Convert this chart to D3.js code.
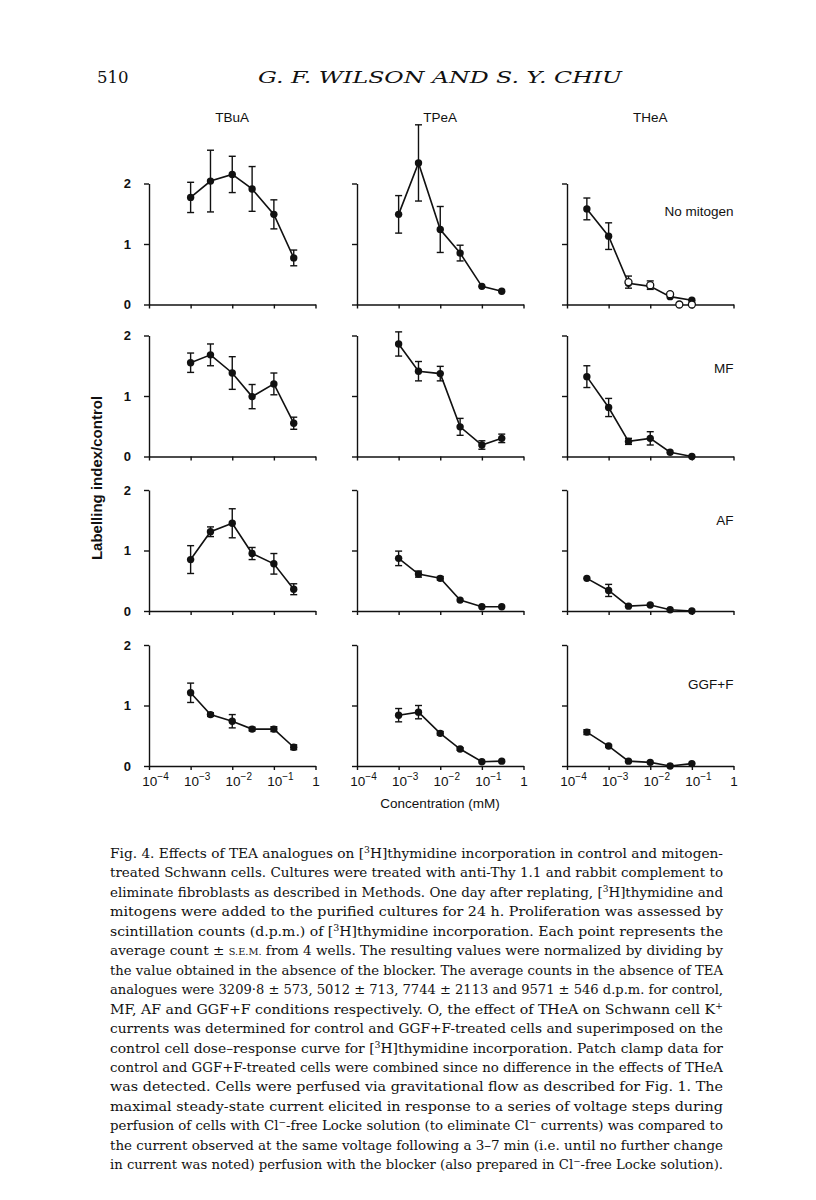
<!DOCTYPE html>
<html><head><meta charset="utf-8">
<script src="https://cdn.jsdelivr.net/npm/d3@7"></script>
<style>body{margin:0;background:#fff} svg{display:block}</style>
</head><body>
<svg id="c" width="816" height="1200"></svg>
<script>
// ---------- data ----------
const drugs = ["TBuA", "TPeA", "THeA"];
const conditions = ["No mitogen", "MF", "AF", "GGF+F"];
const xTicks = [1e-4, 1e-3, 1e-2, 1e-1, 1];
const xTickExp = ["−4", "−3", "−2", "−1", ""];
const yTicks = [0, 1, 2];

const concTBuA = [1e-3, 3e-3, 1e-2, 3e-2, 1e-1, 3e-1];
const concTPeA = [1e-3, 3e-3, 1e-2, 3e-2, 1e-1, 3e-1];
const concTHeA = [3e-4, 1e-3, 3e-3, 1e-2, 3e-2, 1e-1];

// rows: No mitogen, MF, AF, GGF+F
const meanTBuA = [[1.77, 2.04, 2.15, 1.91, 1.49, 0.77], [1.55, 1.68, 1.38, 0.99, 1.20, 0.55], [0.85, 1.31, 1.45, 0.95, 0.78, 0.36], [1.21, 0.85, 0.74, 0.61, 0.61, 0.31]];
const semTBuA  = [[0.25, 0.51, 0.30, 0.37, 0.24, 0.13], [0.16, 0.18, 0.27, 0.20, 0.18, 0.10], [0.23, 0.08, 0.24, 0.10, 0.17, 0.09], [0.16, 0.03, 0.11, 0.03, 0.04, 0.04]];
const meanTPeA = [[1.49, 2.34, 1.24, 0.85, 0.30, 0.22], [1.86, 1.41, 1.37, 0.49, 0.19, 0.30], [0.87, 0.61, 0.54, 0.18, 0.07, 0.07], [0.84, 0.89, 0.54, 0.28, 0.07, 0.08]];
const semTPeA  = [[0.31, 0.63, 0.38, 0.13, 0, 0], [0.20, 0.16, 0.12, 0.14, 0.07, 0.07], [0.12, 0.05, 0.03, 0, 0, 0], [0.11, 0.11, 0.03, 0.02, 0, 0]];
const meanTHeA = [[1.58, 1.13, 0.35, 0.30, 0.13, 0.07], [1.32, 0.81, 0.25, 0.30, 0.07, 0.0], [0.54, 0.34, 0.08, 0.10, 0.02, 0.0], [0.56, 0.33, 0.08, 0.06, 0.0, 0.04]];
const semTHeA  = [[0.18, 0.22, 0, 0, 0, 0], [0.18, 0.15, 0.05, 0.11, 0, 0], [0, 0.10, 0, 0, 0, 0], [0.04, 0.02, 0, 0, 0, 0]];

// open circles: THeA effect on K+ currents (No mitogen panel)
const patchConc = [3e-3, 1e-2, 3e-2, 5e-2, 1e-1];
const patchMean = [0.37, 0.32, 0.17, 0.0, 0.0];
const patchSem  = [0.10, 0.07, 0, 0, 0];

const pageNumber = "510";
const runningHead = "G. F. WILSON AND S. Y. CHIU";
const yTitle = "Labelling index/control";
const xTitle = "Concentration (mM)";
const captionLines = [
  "Fig. 4. Effects of TEA analogues on [^{3}H]thymidine incorporation in control and mitogen-",
  "treated Schwann cells. Cultures were treated with anti-Thy 1.1 and rabbit complement to",
  "eliminate fibroblasts as described in Methods. One day after replating, [^{3}H]thymidine and",
  "mitogens were added to the purified cultures for 24 h. Proliferation was assessed by",
  "scintillation counts (d.p.m.) of [^{3}H]thymidine incorporation. Each point represents the",
  "average count ± ~{S.E.M.} from 4 wells. The resulting values were normalized by dividing by",
  "the value obtained in the absence of the blocker. The average counts in the absence of TEA",
  "analogues were 3209·8 ± 573, 5012 ± 713, 7744 ± 2113 and 9571 ± 546 d.p.m. for control,",
  "MF, AF and GGF+F conditions respectively. O, the effect of THeA on Schwann cell K^{+}",
  "currents was determined for control and GGF+F-treated cells and superimposed on the",
  "control cell dose–response curve for [^{3}H]thymidine incorporation. Patch clamp data for",
  "control and GGF+F-treated cells were combined since no difference in the effects of THeA",
  "was detected. Cells were perfused via gravitational flow as described for Fig. 1. The",
  "maximal steady-state current elicited in response to a series of voltage steps during",
  "perfusion of cells with Cl^{−}-free Locke solution (to eliminate Cl^{−} currents) was compared to",
  "the current observed at the same voltage following a 3–7 min (i.e. until no further change",
  "in current was noted) perfusion with the blocker (also prepared in Cl^{−}-free Locke solution)."
];

// ---------- layout ----------
const svg = d3.select("#c");
const sans = "'Liberation Sans', Arial, Helvetica, sans-serif";
const serif = "'DejaVu Serif', 'Liberation Serif', serif";
const ink = "#111";
const colX = [149, 357, 567];
const rowBase = [304.5, 456.5, 611, 766];
const plotW = 166.5, plotH = 121;
const condLabelY = [216, 373, 525, 689];

const x = d3.scaleLog().domain([1e-4, 1]).range([0, plotW]);
const y = d3.scaleLinear().domain([0, 2]).range([plotH, 0]);

const concs = [concTBuA, concTPeA, concTHeA];
const means = [meanTBuA, meanTPeA, meanTHeA];
const sems = [semTBuA, semTPeA, semTHeA];

// header
svg.append("text").attr("x", 97).attr("y", 83).attr("font-family", serif).attr("font-size", 16.5)
  .attr("fill", ink).text(pageNumber);
svg.append("text").attr("x", 440).attr("y", 83).attr("text-anchor", "middle").attr("font-family", serif)
  .attr("font-size", 16).attr("font-style", "italic").attr("fill", ink)
  .attr("textLength", 364).attr("lengthAdjust", "spacingAndGlyphs").text(runningHead);

// column titles
drugs.forEach((d, i) => {
  svg.append("text").attr("x", colX[i] + plotW / 2).attr("y", 122).attr("text-anchor", "middle")
    .attr("font-family", sans).attr("font-size", 13.5).attr("fill", ink).text(d);
});

function errBars(g, data, cap) {
  const eb = g.append("g").attr("stroke", ink).attr("stroke-width", 1.4).attr("fill", "none");
  data.filter(d => d.e > 0).forEach(d => {
    const cx = x(d.c), y1 = y(d.v + d.e), y2 = y(d.v - d.e);
    eb.append("line").attr("x1", cx).attr("x2", cx).attr("y1", y1).attr("y2", y2);
    eb.append("line").attr("x1", cx - cap).attr("x2", cx + cap).attr("y1", y1).attr("y2", y1);
    eb.append("line").attr("x1", cx - cap).attr("x2", cx + cap).attr("y1", y2).attr("y2", y2);
  });
}

conditions.forEach((cond, r) => {
  drugs.forEach((drug, c) => {
    const g = svg.append("g").attr("transform", `translate(${colX[c]},${rowBase[r] - plotH})`);
    // axes
    const ya = g.append("g").call(d3.axisLeft(y).tickValues(yTicks).tickSize(5).tickSizeOuter(0)
      .tickPadding(13).tickFormat(c === 0 ? d3.format("d") : () => ""));
    const xa = g.append("g").attr("transform", `translate(0,${plotH})`)
      .call(d3.axisBottom(x).tickValues(xTicks).tickSize(4).tickSizeOuter(0).tickPadding(6).tickFormat(() => ""));
    [ya, xa].forEach(a => {
      a.select(".domain").attr("stroke", ink).attr("stroke-width", 1.4);
      a.selectAll(".tick line").attr("stroke", ink).attr("stroke-width", 1.4);
      a.selectAll("text").attr("font-family", sans).attr("font-size", 13).attr("font-weight", "bold").attr("fill", ink);
    });
    if (r === conditions.length - 1) {
      xa.selectAll(".tick text").each(function (d, i) {
        const t = d3.select(this).text("").attr("font-weight", "normal").attr("font-size", 13.5);
        if (xTickExp[i]) {
          t.attr("dx", 6);
          t.append("tspan").text("10");
          t.append("tspan").attr("dy", -5.5).attr("font-size", 10).text(xTickExp[i]);
        } else {
          t.append("tspan").text("1");
        }
      });
    }
    // data
    const data = concs[c].map((cc, k) => ({ c: cc, v: means[c][r][k], e: sems[c][r][k] }));
    errBars(g, data, 3.5);
    g.append("path").datum(data).attr("fill", "none").attr("stroke", ink).attr("stroke-width", 1.6)
      .attr("d", d3.line().x(d => x(d.c)).y(d => y(d.v)));
    g.selectAll("circle.f").data(data).join("circle").attr("class", "f")
      .attr("cx", d => x(d.c)).attr("cy", d => y(d.v)).attr("r", 3.7).attr("fill", ink);
    if (r === 0 && c === 2) {
      const open = patchConc.map((cc, k) => ({ c: cc, v: patchMean[k], e: patchSem[k] }));
      errBars(g, open, 3.5);
      g.selectAll("circle.o").data(open).join("circle").attr("class", "o")
        .attr("cx", d => x(d.c)).attr("cy", d => y(d.v)).attr("r", 3.5)
        .attr("fill", "#fff").attr("stroke", ink).attr("stroke-width", 1.3);
    }
    if (c === 2) {
      svg.append("text").attr("x", colX[2] + plotW).attr("y", condLabelY[r]).attr("text-anchor", "end")
        .attr("font-family", sans).attr("font-size", 13.5).attr("fill", ink).text(cond);
    }
  });
});

// axis titles
svg.append("text").attr("transform", "translate(102,478) rotate(-90)").attr("text-anchor", "middle")
  .attr("font-family", sans).attr("font-size", 15).attr("font-weight", "bold").attr("fill", ink).text(yTitle);
svg.append("text").attr("x", 440).attr("y", 808).attr("text-anchor", "middle")
  .attr("font-family", sans).attr("font-size", 13.5).attr("fill", ink).text(xTitle);

// caption
const capX0 = 110, capX1 = 723, capY0 = 858, capDY = 19.45;
captionLines.forEach((line, i) => {
  const t = svg.append("text").attr("x", capX0).attr("y", capY0 + i * capDY)
    .attr("font-family", serif).attr("font-size", 12.6).attr("fill", ink)
    .attr("textLength", capX1 - capX0).attr("lengthAdjust", "spacingAndGlyphs");
  const re = /(\^\{[^}]*\}|~\{[^}]*\})/g;
  line.split(re).forEach(seg => {
    if (!seg) return;
    if (seg.startsWith("^{")) {
      t.append("tspan").attr("baseline-shift", "super").attr("font-size", 8.5).text(seg.slice(2, -1));
    } else if (seg.startsWith("~{")) {
      t.append("tspan").attr("font-size", 9).text(seg.slice(2, -1));
    } else {
      t.append("tspan").text(seg);
    }
  });
});
</script>
</body></html>
